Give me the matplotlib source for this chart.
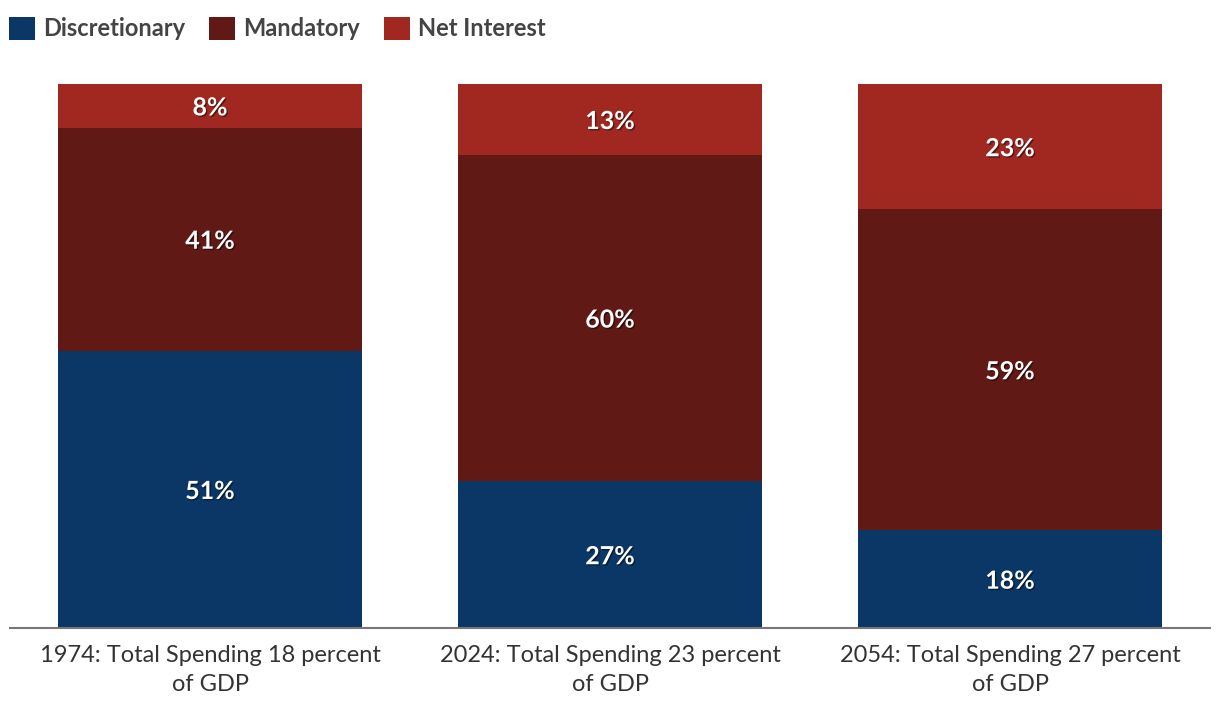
import matplotlib.pyplot as plt
import matplotlib.patheffects as pe
from matplotlib.patches import Patch
import numpy as np

plt.rcParams['font.family'] = ['Lato', 'DejaVu Sans']

categories = ["1974: Total Spending 18 percent\nof GDP",
              "2024: Total Spending 23 percent\nof GDP",
              "2054: Total Spending 27 percent\nof GDP"]
discretionary = [51, 27, 18]
mandatory = [41, 60, 59]
net_interest = [8, 13, 23]

series = [("Discretionary", discretionary, "#0a3766"),
          ("Mandatory", mandatory, "#601914"),
          ("Net Interest", net_interest, "#a02820")]

fig = plt.figure(figsize=(12.2, 7.14), dpi=100)
ax = fig.add_axes([10 / 1220, 86 / 714, 1200 / 1220, 544 / 714])

x = np.arange(len(categories))
bottom = np.zeros(len(categories))
shadow = [pe.SimplePatchShadow(offset=(1, -1), shadow_rgbFace='black', alpha=0.45), pe.Normal()]
handles = []
for name, vals, color in series:
    vals = np.array(vals, dtype=float)
    ax.bar(x, vals, width=0.76, bottom=bottom, color=color, linewidth=0)
    for xi, b, v in zip(x, bottom, vals):
        ax.text(xi, b + v / 2 - 0.4, f"{int(v)}%", ha='center', va='center',
                color='white', fontsize=18, fontweight='bold', path_effects=shadow)
    bottom += vals
    handles.append(Patch(facecolor=color, label=name))

ax.set_xlim(-0.5, 2.5)
ax.set_ylim(0, 100)
ax.set_yticks([])
ax.set_xticks(x)
ax.set_xticklabels(categories, fontsize=17, color='#333333', linespacing=1.5)
ax.tick_params(axis='x', length=0, pad=12)
for s in ['top', 'right', 'left']:
    ax.spines[s].set_visible(False)
ax.spines['bottom'].set_color('#777777')
ax.spines['bottom'].set_linewidth(1.5)

fig.legend(handles=handles, loc='upper left', bbox_to_anchor=(-0.004, 0.996),
           ncol=3, frameon=False, handlelength=1.1, handleheight=1.1,
           handletextpad=0.35, columnspacing=1.0, borderaxespad=0.3,
           borderpad=0.3, labelcolor='#444444',
           prop={'size': 17, 'weight': 'bold'})

fig.savefig("out.png", dpi=100)
